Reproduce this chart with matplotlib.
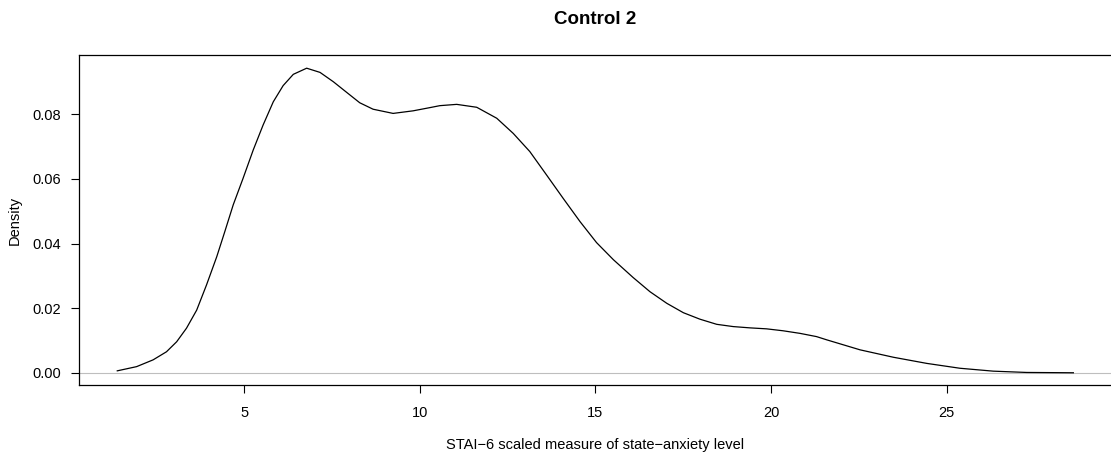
import matplotlib.pyplot as plt

plt.rcParams['font.family'] = ['Liberation Sans', 'DejaVu Sans']

# density curve
x_vals = [1.39, 1.94, 2.41, 2.79, 3.08, 3.36, 3.65, 3.93, 4.22, 4.45, 4.69,
          4.97, 5.26, 5.54, 5.83, 6.11, 6.40, 6.78, 7.16, 7.54, 7.92, 8.29,
          8.67, 9.24, 9.81, 10.29, 10.57, 11.05, 11.62, 12.19, 12.66, 13.13,
          13.61, 14.08, 14.56, 15.03, 15.51, 16.07, 16.55, 17.03, 17.50,
          17.97, 18.45, 18.92, 19.40, 19.87, 20.34, 20.82, 21.29, 21.58,
          22.53, 23.48, 24.43, 25.37, 26.32, 27.27, 28.6]
density = [0.0006, 0.0019, 0.0040, 0.0065, 0.0096, 0.0138, 0.0194, 0.0272,
           0.0359, 0.0437, 0.0520, 0.0602, 0.0690, 0.0767, 0.0839, 0.0889,
           0.0924, 0.0943, 0.0930, 0.0901, 0.0868, 0.0836, 0.0816, 0.0803,
           0.0811, 0.0821, 0.0827, 0.0831, 0.0822, 0.0788, 0.0741, 0.0685,
           0.0612, 0.0540, 0.0468, 0.0403, 0.0350, 0.0295, 0.0251, 0.0215,
           0.0186, 0.0166, 0.0150, 0.0143, 0.0139, 0.0136, 0.0130, 0.0122,
           0.0112, 0.0102, 0.0071, 0.0048, 0.0029, 0.0014, 0.0005, 0.0001,
           0.0]

x_ticks = [5, 10, 15, 20, 25]
y_ticks = [0.00, 0.02, 0.04, 0.06, 0.08]

fig = plt.figure(figsize=(11.11, 4.61), dpi=100)
ax = fig.add_axes([0.0714, 0.1649, 0.9292, 0.7152])

ax.axhline(0, color='#BEBEBE', lw=0.8)
ax.plot(x_vals, density, color='black', lw=0.9)

ax.set_xlim(0.31, 29.69)
ax.set_ylim(-0.00378, 0.0983)
ax.set_xticks(x_ticks)
ax.set_yticks(y_ticks)
ax.set_yticklabels(['%.2f' % v for v in y_ticks])
ax.tick_params(axis='x', length=6, width=0.8, pad=9, labelsize=10.5)
ax.tick_params(axis='y', length=6, width=0.8, pad=7, labelsize=10.5)
for s in ax.spines.values():
    s.set_linewidth(0.9)
ax.spines['right'].set_visible(False)

ax.set_xlabel('STAI\u22126 scaled measure of state\u2212anxiety level', fontsize=10.5, labelpad=13)
ax.set_ylabel('Density', fontsize=10.5, labelpad=8)
fig.text(0.536, 1 - 19 / 461, 'Control 2', ha='center', va='center',
         fontsize=13.5, fontweight='bold')

fig.savefig('out.png', dpi=100)
